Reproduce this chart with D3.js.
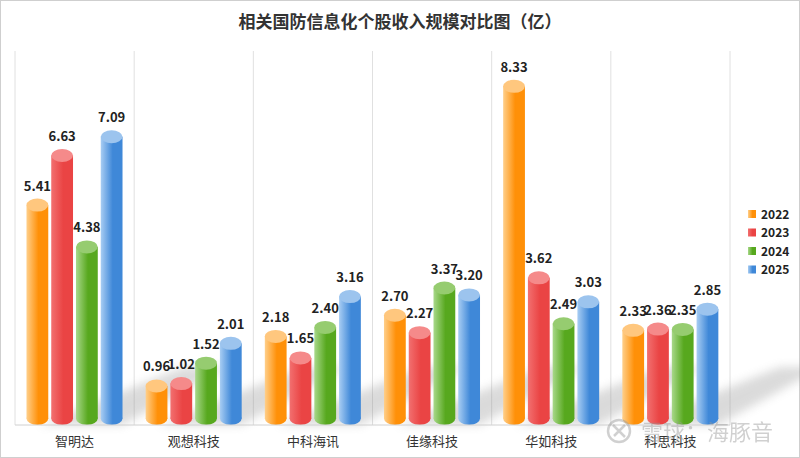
<!DOCTYPE html>
<html>
<head>
<meta charset="utf-8">
<script src="https://cdn.jsdelivr.net/npm/d3@7"></script>
<style>
  body { margin: 0; background: #fff; }
  svg { display: block; font-family: "Noto Sans CJK SC", "Noto Sans", sans-serif; }
</style>
</head>
<body>
<script>
// data
var companies = ["智明达", "观想科技", "中科海讯", "佳缘科技", "华如科技", "科思科技"];
var years = ["2022", "2023", "2024", "2025"];
var v2022 = [5.41, 0.96, 2.18, 2.70, 8.33, 2.33];
var v2023 = [6.63, 1.02, 1.65, 2.27, 3.62, 2.36];
var v2024 = [4.38, 1.52, 2.40, 3.37, 2.49, 2.35];
var v2025 = [7.09, 2.01, 3.16, 3.20, 3.03, 2.85];
var series = [v2022, v2023, v2024, v2025];

var colors = {
  "2022": ["#ffcf8a", "#ff9008"],
  "2023": ["#f27070", "#ea4444"],
  "2024": ["#a8d88a", "#57a81e"],
  "2025": ["#a8cdf3", "#3f88d8"]
};
var capColors = { "2022": "#ffc77e", "2023": "#f58a8a", "2024": "#96cc70", "2025": "#9cc4ee" };

var W = 800, H = 458, base = 425, plotTop = 51;

var svg = d3.select("body").append("svg").attr("width", W).attr("height", H);
var defs = svg.append("defs");

years.forEach(function(yr) {
  var g = defs.append("linearGradient").attr("id", "g" + yr)
    .attr("x1", "0%").attr("x2", "100%").attr("y1", "0%").attr("y2", "0%");
  g.append("stop").attr("offset", "0%").attr("stop-color", colors[yr][0]);
  g.append("stop").attr("offset", "55%").attr("stop-color", colors[yr][1]);
  g.append("stop").attr("offset", "100%").attr("stop-color", colors[yr][1]);
});
defs.append("filter").attr("id", "blur").attr("x", "-50%").attr("y", "-50%").attr("width", "200%").attr("height", "200%")
  .append("feGaussianBlur").attr("stdDeviation", 5);

// frame
svg.append("rect").attr("x", 0.5).attr("y", 0.5).attr("width", W - 1).attr("height", H - 1)
  .attr("fill", "#fff").attr("stroke", "#cfcfcf");

// title
svg.append("text").attr("x", 400).attr("y", 28).attr("text-anchor", "middle")
  .attr("font-size", 17).attr("font-weight", "bold").attr("fill", "#333")
  .text("相关国防信息化个股收入规模对比图（亿）");

var x = d3.scaleBand().domain(companies).range([15, 730]);
var xs = d3.scaleBand().domain(years).range([10, 109]).paddingInner(0.12).paddingOuter(0.06);
var y = d3.scaleLinear().domain([0, 9.2]).range([base, plotTop]);

// vertical separators
var seps = companies.map(function(c) { return x(c); }).concat([x.range()[1]]);
svg.append("g").selectAll("line").data(seps).enter().append("line")
  .attr("x1", function(d) { return d; }).attr("x2", function(d) { return d; })
  .attr("y1", plotTop).attr("y2", base)
  .attr("stroke", "#e0e0e0");

var groups = svg.append("g").selectAll("g").data(companies).enter().append("g")
  .attr("transform", function(c) { return "translate(" + x(c) + ",0)"; });

// floor shadows
groups.each(function(c, i) {
  var g = d3.select(this);
  var x0 = xs.range()[0] + 14, x1 = xs.range()[1] - 2;
  var dx = 105, dy = -58;
  g.append("path")
    .attr("d", "M" + x0 + "," + base + "L" + x1 + "," + base +
      "L" + (x1 + dx) + "," + (base + dy) + "L" + (x0 + dx + 40) + "," + (base + dy) + "Z")
    .attr("fill", "#888").attr("opacity", 0.3).attr("filter", "url(#blur)");
});

// baseline
svg.append("line").attr("x1", 15).attr("x2", 730).attr("y1", base).attr("y2", base).attr("stroke", "#d0d0d0");

var ry = 6.5;
groups.each(function(c, i) {
  var g = d3.select(this);
  var data = years.map(function(yr, k) { return { yr: yr, v: series[k][i] }; });
  var bars = g.selectAll("g.bar").data(data).enter().append("g").attr("class", "bar");
  // bottom cap
  bars.append("ellipse")
    .attr("cx", function(d) { return xs(d.yr) + xs.bandwidth() / 2; })
    .attr("cy", base - ry)
    .attr("rx", xs.bandwidth() / 2).attr("ry", ry)
    .attr("fill", function(d) { return "url(#g" + d.yr + ")"; });
  bars.append("rect")
    .attr("x", function(d) { return xs(d.yr); })
    .attr("y", function(d) { return y(d.v); })
    .attr("width", xs.bandwidth())
    .attr("height", function(d) { return base - ry - y(d.v); })
    .attr("fill", function(d) { return "url(#g" + d.yr + ")"; });
  bars.append("ellipse")
    .attr("cx", function(d) { return xs(d.yr) + xs.bandwidth() / 2; })
    .attr("cy", function(d) { return y(d.v); })
    .attr("rx", xs.bandwidth() / 2).attr("ry", ry)
    .attr("fill", function(d) { return capColors[d.yr]; });
  bars.append("text")
    .attr("x", function(d) { return xs(d.yr) + xs.bandwidth() / 2; })
    .attr("y", function(d) { return y(d.v) - ry - 8; })
    .attr("text-anchor", "middle")
    .attr("font-size", 13).attr("font-weight", "bold").attr("fill", "#222")
    .text(function(d) { return d.v.toFixed(2); });
});

// category labels
svg.append("g").selectAll("text").data(companies).enter().append("text")
  .attr("x", function(c) { return x(c) + x.bandwidth() / 2; })
  .attr("y", 446).attr("text-anchor", "middle")
  .attr("font-size", 13).attr("fill", "#333")
  .text(function(c) { return c; });

// legend
var leg = svg.append("g").selectAll("g").data(years).enter().append("g")
  .attr("transform", function(d, i) { return "translate(748," + (210 + i * 18.5) + ")"; });
leg.append("rect").attr("width", 8).attr("height", 8).attr("y", 0)
  .attr("fill", function(d) { return "url(#g" + d + ")"; });
leg.append("text").attr("x", 13).attr("y", 8.5)
  .attr("font-size", 12).attr("font-weight", "bold").attr("fill", "#222")
  .text(function(d) { return d; });

// watermark
var wm = svg.append("g").attr("opacity", 0.45);
wm.append("circle").attr("cx", 619).attr("cy", 431).attr("r", 11)
  .attr("fill", "none").attr("stroke", "#999").attr("stroke-width", 2.5);
wm.append("path").attr("d", "M613,425 L625,437 M625,425 L614,436")
  .attr("stroke", "#999").attr("stroke-width", 2.5).attr("fill", "none");
wm.append("text").attr("x", 641).attr("y", 440)
  .attr("font-size", 22).attr("fill", "#999")
  .text("雪球：海豚音");
</script>
</body>
</html>
